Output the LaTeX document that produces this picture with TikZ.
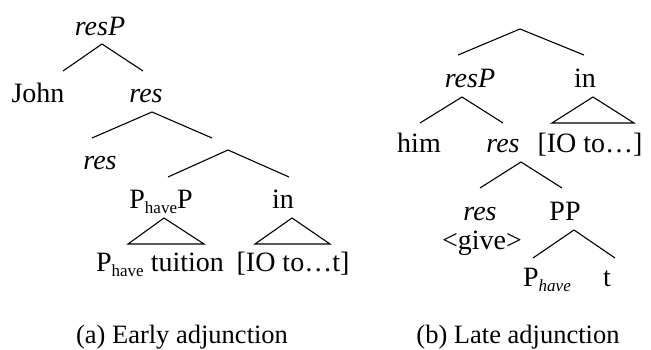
\documentclass[tikz,border=0pt]{standalone}
\usepackage{fontspec}
\setmainfont{Liberation Serif}
\newcommand{\lowtxt}[1]{\raisebox{-0.2em}{\fontsize{17}{17}\selectfont #1}}
\begin{document}
\begin{tikzpicture}[x=1pt,y=-1pt,
  lbl/.style={anchor=base,inner sep=0pt,font=\fontsize{28}{30}\selectfont},
  captext/.style={anchor=base,inner sep=0pt,font=\fontsize{26.5}{28}\selectfont},
  branch/.style={draw=black,line width=1.1pt,line join=miter}]
\useasboundingbox (0,0) rectangle (651,350);

% ---------- (a) early adjunction ----------
\node[lbl] (rPa)   at (100,36)  {\itshape resP};
\node[lbl] (johnA) at (38,103)  {John};
\node[lbl] (resA1) at (146,103) {\itshape res};
\node[lbl] (resA2) at (100,170) {\itshape res};
\node[lbl] (phpA)  at (161,208) {P\lowtxt{have}P};
\node[lbl] (inA)   at (283,208) {in};
\node[lbl] (phtA)  at (160,271) {P\lowtxt{have} tuition};
\node[lbl] (ioA)   at (293,271) {[IO to…t]};

\coordinate (a1t) at (102,44);  \coordinate (a1l) at (63,71);   \coordinate (a1r) at (143,71);
\coordinate (a2t) at (152,112); \coordinate (a2l) at (92,138);  \coordinate (a2r) at (212,138);
\coordinate (a3t) at (228,150); \coordinate (a3l) at (168,177); \coordinate (a3r) at (289,177);
\coordinate (a4t) at (164,218); \coordinate (a4l) at (128,244); \coordinate (a4r) at (204,244);
\coordinate (a5t) at (292,218); \coordinate (a5l) at (255,244); \coordinate (a5r) at (330,244);

\draw[branch] (a1l) -- (a1t) -- (a1r);
\draw[branch] (a2l) -- (a2t) -- (a2r);
\draw[branch] (a3l) -- (a3t) -- (a3r);
\draw[branch] (a4l) -- (a4t) -- (a4r) -- cycle;
\draw[branch] (a5l) -- (a5t) -- (a5r) -- cycle;

\node[captext] (capA) at (182,343) {(a) Early adjunction};

% ---------- (b) late adjunction ----------
\node[lbl] (rPb)   at (470,88)  {\itshape resP};
\node[lbl] (inB)   at (585,88)  {in};
\node[lbl] (himB)  at (419,153) {him};
\node[lbl] (resB1) at (503,153) {\itshape res};
\node[lbl] (ioB)   at (590,153) {[IO to…]};
\node[lbl] (resB2) at (480,220) {\itshape res};
\node[lbl] (ppB)   at (565,220) {PP};
\node[lbl] (giveB) at (482,249) {<give>};
\node[lbl] (phB)   at (547,286) {P\lowtxt{\itshape have}};
\node[lbl] (tB)    at (607,286) {t};

\coordinate (b1t) at (520,29);  \coordinate (b1l) at (458,55);  \coordinate (b1r) at (584,55);
\coordinate (b2t) at (462,97);  \coordinate (b2l) at (420,123); \coordinate (b2r) at (503,123);
\coordinate (b3t) at (593,97);  \coordinate (b3l) at (552,123); \coordinate (b3r) at (634,123);
\coordinate (b4t) at (521,162); \coordinate (b4l) at (480,188); \coordinate (b4r) at (562,188);
\coordinate (b5t) at (574,230); \coordinate (b5l) at (533,258); \coordinate (b5r) at (615,258);

\draw[branch] (b1l) -- (b1t) -- (b1r);
\draw[branch] (b2l) -- (b2t) -- (b2r);
\draw[branch] (b3l) -- (b3t) -- (b3r) -- cycle;
\draw[branch] (b4l) -- (b4t) -- (b4r);
\draw[branch] (b5l) -- (b5t) -- (b5r);

\node[captext] (capB) at (518,343) {(b) Late adjunction};
\end{tikzpicture}
\end{document}
